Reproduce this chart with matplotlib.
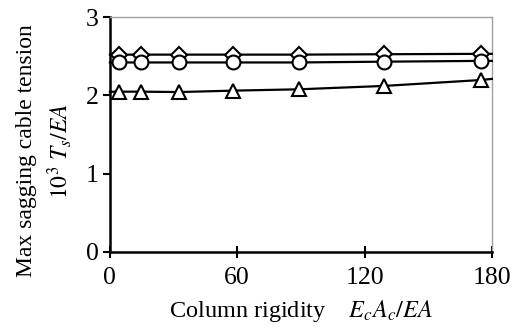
import matplotlib.pyplot as plt
import numpy as np

plt.rcParams['font.family'] = 'Liberation Serif'
plt.rcParams['mathtext.fontset'] = 'stix'

# column rigidity values (first and last are line ends, no marker)
rigidity = [0, 4.5, 14.5, 32.5, 58, 89, 129, 175, 180]
tension_diamond = [2.52, 2.52, 2.52, 2.52, 2.52, 2.52, 2.525, 2.53, 2.53]
tension_circle = [2.42, 2.42, 2.42, 2.42, 2.42, 2.42, 2.43, 2.44, 2.44]
tension_triangle = [2.045, 2.047, 2.047, 2.042, 2.06, 2.077, 2.12, 2.196, 2.21]

xticks = [0, 60, 120, 180]
yticks = [0, 1, 2, 3]

fig = plt.figure(figsize=(5.21, 3.28), dpi=100)
ax = fig.add_axes([0.211, 0.232, 0.733, 0.716])

marks = list(range(1, len(rigidity) - 1))
for vals, m, ms in [(tension_diamond, 'D', 8), (tension_circle, 'o', 10), (tension_triangle, '^', 10)]:
    ax.plot(rigidity, vals, color='black', lw=1.6, marker=m, ms=ms,
            mfc='white', mec='black', mew=1.5, markevery=marks, clip_on=False, zorder=3)

ax.set_xlim(0, 180)
ax.set_ylim(0, 3)
ax.set_xticks(xticks)
ax.set_yticks(yticks)
ax.tick_params(axis='x', direction='inout', length=8, width=1.5, labelsize=18.5, pad=7)
ax.tick_params(axis='y', direction='out', length=5, width=1.5, labelsize=18.5, pad=3)

for s in ['left', 'bottom']:
    ax.spines[s].set_linewidth(1.8)
for s in ['top', 'right']:
    ax.spines[s].set_color('#a0a0a0')
    ax.spines[s].set_linewidth(1.0)

ax.set_xlabel(r'Column rigidity    $E_cA_c/EA$', fontsize=17.5, labelpad=6)
ax.set_ylabel('Max sagging cable tension\n' + r'$10^3\ T_s/EA$', fontsize=17,
              linespacing=1.35)
ax.yaxis.set_label_coords(-0.095, 0.43)

fig.savefig('out.png', dpi=100)
